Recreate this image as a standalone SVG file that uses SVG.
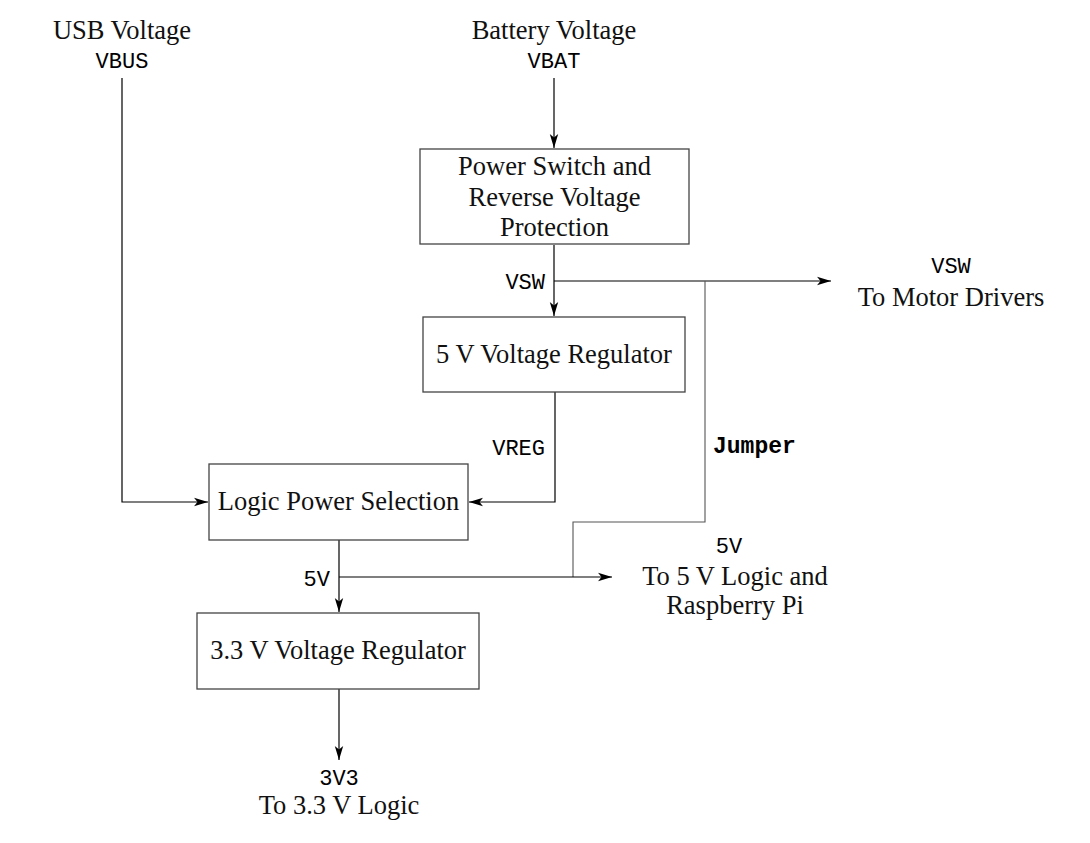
<svg xmlns="http://www.w3.org/2000/svg" width="1090" height="843" viewBox="0 0 1090 843">
<defs>
<marker id="arr" viewBox="0 0 14 10" refX="14" refY="5" markerWidth="14" markerHeight="10" orient="auto" markerUnits="userSpaceOnUse">
<path d="M14,5 L0,0.8 L3.5,5 L0,9.2 z" fill="#000"/>
</marker>
<style>
.box{fill:#fff;stroke:#444;stroke-width:1.3}
.t{font-family:"Liberation Serif","DejaVu Serif",serif;font-size:26.5px;fill:#111;text-anchor:middle}
.m{font-family:"Liberation Mono","DejaVu Sans Mono",monospace;font-size:22px;fill:#000}
.c{fill:none;stroke:#000;stroke-width:1.2}
.j{fill:none;stroke:#555;stroke-width:1.1}
</style>
</defs>
<rect width="1090" height="843" fill="#fff"/>
<g id="connectors">
<path class="c" d="M122,78 V502 H208" marker-end="url(#arr)"/>
<path class="c" d="M554,78 V148" marker-end="url(#arr)"/>
<path class="c" d="M554,245 V316" marker-end="url(#arr)"/>
<path class="c" d="M554,281 H831" marker-end="url(#arr)"/>
<path class="j" d="M705,281 V522 H573 V577"/>
<path class="c" d="M555,392 V502 H469" marker-end="url(#arr)"/>
<path class="c" d="M339,540 V612" marker-end="url(#arr)"/>
<path class="c" d="M339,577 H612" marker-end="url(#arr)"/>
<path class="c" d="M339,689 V760" marker-end="url(#arr)"/>
</g>
<g id="usb">
<text class="t" x="122" y="39">USB Voltage</text>
<text class="m" x="122" y="68" text-anchor="middle">VBUS</text>
</g>
<g id="battery">
<text class="t" x="554" y="39">Battery Voltage</text>
<text class="m" x="554" y="68" text-anchor="middle">VBAT</text>
</g>
<g id="power-switch">
<rect class="box" x="420" y="149" width="269" height="95"/>
<text class="t" x="554.5" y="175">Power Switch and</text>
<text class="t" x="554.5" y="206">Reverse Voltage</text>
<text class="t" x="554.5" y="236">Protection</text>
</g>
<g id="vsw-label"><text class="m" x="545" y="289" text-anchor="end">VSW</text></g>
<g id="motor-out">
<text class="m" x="951" y="273" text-anchor="middle">VSW</text>
<text class="t" x="951" y="306">To Motor Drivers</text>
</g>
<g id="reg5">
<rect class="box" x="423" y="317" width="262" height="75"/>
<text class="t" x="554" y="363">5 V Voltage Regulator</text>
</g>
<g id="vreg-label"><text class="m" x="545" y="455" text-anchor="end">VREG</text></g>
<g id="jumper-label"><text x="713" y="453" style="font-family:'Liberation Mono','DejaVu Sans Mono',monospace;font-size:23px;font-weight:bold">Jumper</text></g>
<g id="logic-sel">
<rect class="box" x="209" y="464" width="259" height="76"/>
<text class="t" x="338.5" y="510">Logic Power Selection</text>
</g>
<g id="v5-label"><text class="m" x="330" y="586" text-anchor="end">5V</text></g>
<g id="out5">
<text class="m" x="729" y="553" text-anchor="middle">5V</text>
<text class="t" x="735" y="585">To 5 V Logic and</text>
<text class="t" x="735" y="614">Raspberry Pi</text>
</g>
<g id="reg33">
<rect class="box" x="197" y="613" width="282" height="76"/>
<text class="t" x="338" y="659">3.3 V Voltage Regulator</text>
</g>
<g id="out33">
<text class="m" x="339" y="785" text-anchor="middle">3V3</text>
<text class="t" x="339" y="814">To 3.3 V Logic</text>
</g>
</svg>
